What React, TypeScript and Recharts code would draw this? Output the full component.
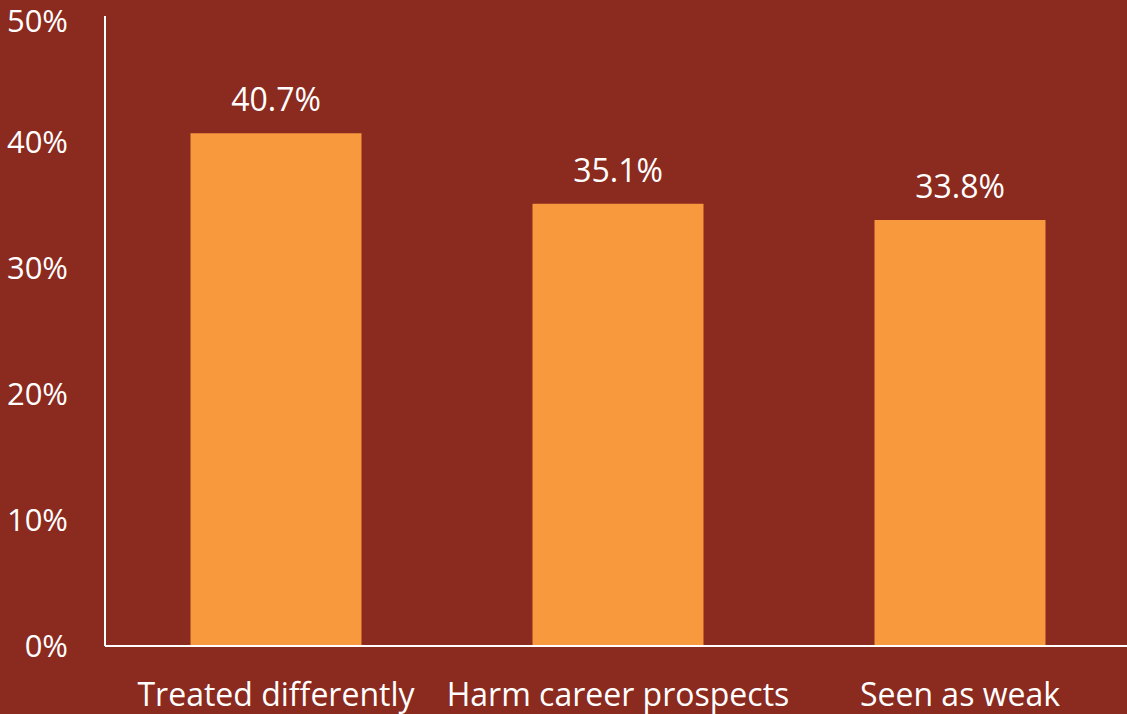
import React from 'react';
import { BarChart, Bar, XAxis, YAxis, LabelList } from 'recharts';

const categories = ['Treated differently', 'Harm career prospects', 'Seen as weak'];
const shares = [40.7, 35.1, 33.8];
const yTicks = [0, 10, 20, 30, 40, 50];

const BG = '#8B2A1E';
const BAR = '#F8993E';
const INK = '#FFFFFF';
const FONT = '"Open Sans", Lato, sans-serif';

const data = categories.map((name, i) => ({ name, value: shares[i] }));

export default function App() {
  return (
    <div style={{
      position: 'absolute', left: 0, top: 0,
      width: 1127, height: 714, overflow: 'hidden',
      background: BG, fontFamily: FONT,
    }}>
      <BarChart
        width={1131}
        height={714}
        data={data}
        margin={{ top: 16, right: 0, bottom: 0, left: 0 }}
        barCategoryGap="25%"
      >
        <XAxis
          dataKey="name"
          height={68}
          axisLine={{ stroke: INK, strokeWidth: 2 }}
          tickLine={false}
          tickSize={0}
          tickMargin={37}
          interval={0}
          tick={{ fill: INK, fontSize: 32, fontFamily: FONT }}
        />
        <YAxis
          width={105}
          domain={[0, 50]}
          ticks={yTicks}
          tickFormatter={v => `${v}%`}
          axisLine={{ stroke: INK, strokeWidth: 2 }}
          tickLine={false}
          tickSize={0}
          tickMargin={37}
          tick={{ fill: INK, fontSize: 31, fontFamily: FONT }}
        />
        <Bar dataKey="value" fill={BAR} isAnimationActive={false}>
          <LabelList
            dataKey="value"
            position="top"
            offset={22}
            formatter={(v: any) => `${Number(v).toFixed(1)}%`}
            style={{ fill: INK, fontSize: 32, fontFamily: FONT }}
          />
        </Bar>
      </BarChart>
    </div>
  );
}
